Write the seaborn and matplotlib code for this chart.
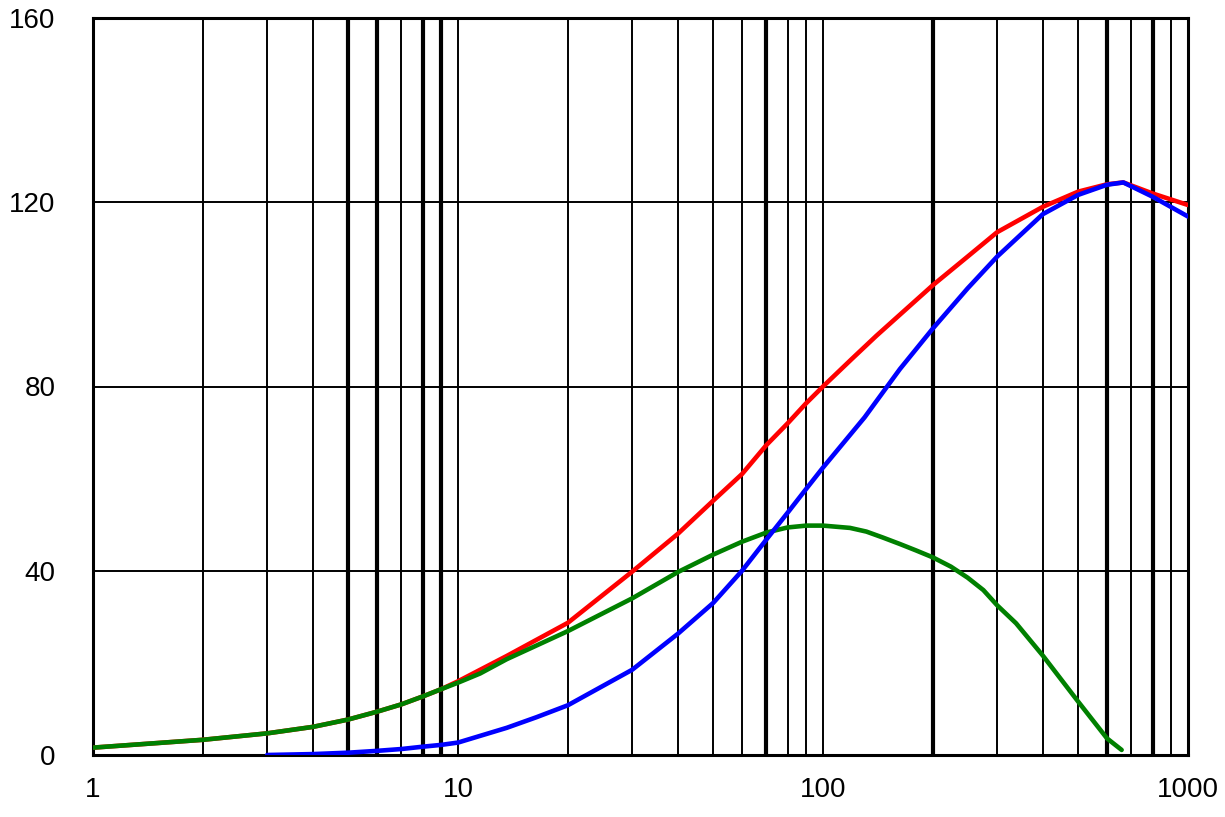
import numpy as np
import pandas as pd
import matplotlib
matplotlib.use("Agg")
import matplotlib.pyplot as plt
import matplotlib.ticker as mticker
import seaborn as sns

# ---- data ----
red_x = [1, 2, 3, 4, 5, 6, 7, 8, 9, 10, 11.5, 13.6, 20, 30, 40, 50, 60, 70, 80, 90, 100,
         120, 140, 162.5, 200, 249, 300, 400, 500, 600, 665, 800, 1000]
red_y = [1.6, 3.3, 4.7, 6.1, 7.7, 9.4, 11.0, 12.7, 14.3, 16.0, 18.5, 21.5, 28.7, 39.8, 48.0,
         55.2, 61.0, 67.3, 72.0, 76.4, 80.0, 86.0, 91.0, 95.6, 102.0, 108.2, 113.5, 119.0,
         122.3, 123.9, 124.3, 121.9, 119.4]

blue_x = [3, 4, 5, 6, 7, 8, 9, 10, 13.6, 16.4, 20, 30, 40, 50, 60, 70, 80, 90, 100,
          130, 162.5, 200, 249, 300, 400, 500, 600, 665, 800, 1000]
blue_y = [0.0, 0.2, 0.5, 0.9, 1.3, 1.8, 2.2, 2.7, 5.9, 8.2, 10.8, 18.5, 26.3, 33.0, 40.0,
          46.8, 52.6, 57.8, 62.4, 73.3, 83.8, 92.6, 101.3, 108.2, 117.4, 121.6, 123.8,
          124.3, 121.2, 116.9]

green_x = [1, 2, 3, 4, 5, 6, 7, 8, 9, 10, 11.5, 13.6, 20, 30, 40, 50, 60, 70, 80, 90, 100,
           118.6, 131.5, 146, 162.5, 180, 200, 224, 249, 275, 300, 338, 400, 500, 600, 658]
green_y = [1.6, 3.3, 4.7, 6.1, 7.7, 9.4, 11.0, 12.7, 14.3, 15.7, 17.7, 20.8, 26.9, 34.0,
           39.7, 43.5, 46.3, 48.3, 49.4, 49.8, 49.8, 49.3, 48.5, 47.2, 45.8, 44.4, 42.9,
           40.9, 38.5, 35.8, 32.5, 28.6, 21.6, 11.6, 3.6, 1.1]

x_ticks = [1, 10, 100, 1000]
x_tick_labels = ["1", "10", "100", "1000"]
y_ticks = [0, 40, 80, 120, 160]
y_tick_labels = ["0", "40", "80", "120", "160"]
thick_grid_x = [5, 6, 8, 9, 70, 200, 600, 800]

# ---- style ----
sns.set_theme(style="white")
plt.rcParams["font.family"] = ["Liberation Sans", "DejaVu Sans"]

fig = plt.figure(figsize=(12.25, 8.17), dpi=100)
ax = fig.add_axes([93 / 1225, 1 - 755 / 817, (1188 - 93) / 1225, (755 - 18) / 817])

df_red = pd.DataFrame({"x": red_x, "y": red_y})
df_blue = pd.DataFrame({"x": blue_x, "y": blue_y})
df_green = pd.DataFrame({"x": green_x, "y": green_y})

lw = 3.3
sns.lineplot(data=df_red, x="x", y="y", ax=ax, color="#ff0000", linewidth=lw, zorder=3)
sns.lineplot(data=df_green, x="x", y="y", ax=ax, color="#008000", linewidth=lw, zorder=4)
sns.lineplot(data=df_blue, x="x", y="y", ax=ax, color="#0000ff", linewidth=lw, zorder=5)

ax.set_xscale("log")
ax.set_xlim(1, 1000)
ax.set_ylim(0, 160)

ax.xaxis.set_major_locator(mticker.FixedLocator(x_ticks))
ax.xaxis.set_major_formatter(mticker.FixedFormatter(x_tick_labels))
ax.xaxis.set_minor_locator(mticker.LogLocator(base=10, subs=np.arange(2, 10), numticks=20))
ax.xaxis.set_minor_formatter(mticker.NullFormatter())
ax.yaxis.set_major_locator(mticker.FixedLocator(y_ticks))
ax.yaxis.set_major_formatter(mticker.FixedFormatter(y_tick_labels))

ax.set_xlabel("")
ax.set_ylabel("")

ax.grid(True, which="both", axis="x", color="black", linewidth=1.4)
ax.grid(True, which="major", axis="y", color="black", linewidth=1.4)
ax.set_axisbelow(True)

ax.tick_params(axis="both", which="both", length=0, labelsize=20, colors="black")
ax.tick_params(axis="x", pad=16)
ax.tick_params(axis="y", pad=27)

for side in ["left", "right", "top", "bottom"]:
    ax.spines[side].set_visible(True)
    ax.spines[side].set_color("black")
    ax.spines[side].set_linewidth(2.2)

fig.canvas.draw()
minor_locs = ax.xaxis.get_minorticklocs()
minor_ticks = ax.xaxis.get_minor_ticks(len(minor_locs))
for loc, tick in zip(minor_locs, minor_ticks):
    if any(abs(loc - t) / t < 1e-6 for t in thick_grid_x):
        tick.gridline.set_linewidth(3.0)

fig.savefig("out.png", dpi=100, facecolor="white")
